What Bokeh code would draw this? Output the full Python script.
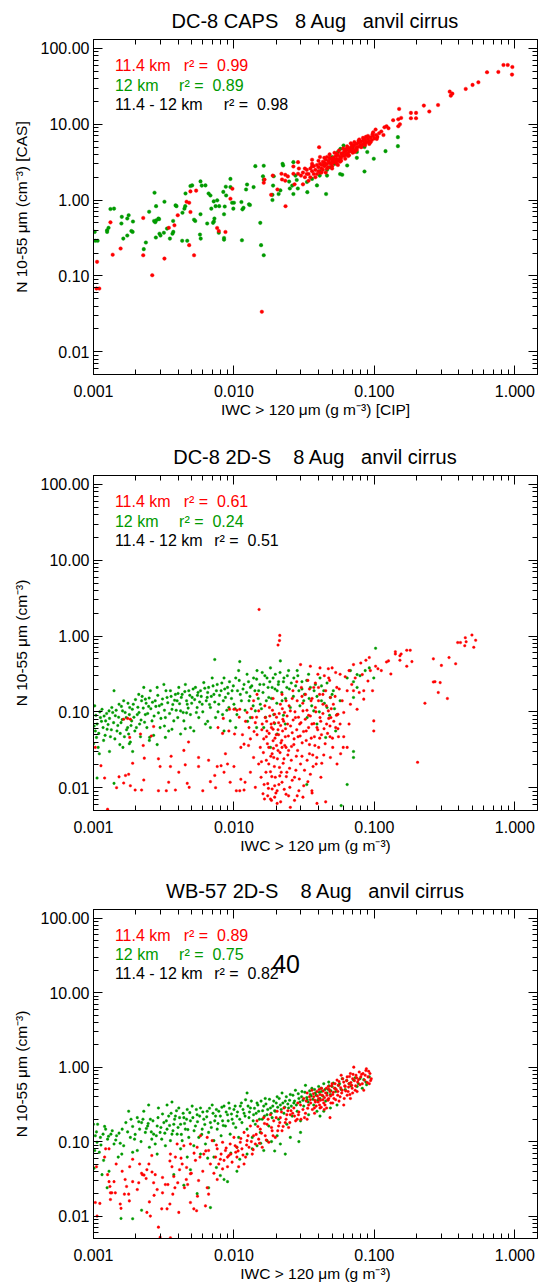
from bokeh.plotting import figure
from bokeh.layouts import column
from bokeh.models import LogAxis, FixedTicker, Label, Range1d, PrintfTickFormatter, CustomJSTickFormatter
from bokeh.embed import file_html
from bokeh.resources import INLINE

RED = "#ff0000"
GREEN = "#009a00"
FONT = "Liberation Sans"
NB = "\u00a0"

# ---------------- tick values / labels ----------------
x_tick_values = [0.001, 0.01, 0.1, 1.0]
y_tick_values = [0.01, 0.1, 1.0, 10.0, 100.0]
x_minor = [m * 10.0 ** e for e in range(-3, 1) for m in range(2, 10)]
y_minor = [m * 10.0 ** e for e in range(-3, 3) for m in range(2, 10)]

titles = ["DC-8 CAPS" + NB * 2 + " 8 Aug" + NB * 2 + " anvil cirrus",
          "DC-8 2D-S" + NB * 3 + " 8 Aug" + NB * 2 + " anvil cirrus",
          "WB-57 2D-S" + NB * 3 + " 8 Aug" + NB * 2 + " anvil cirrus"]
y_labels = ["N 10-55 \u03bcm (cm\u207b\u00b3) [CAS]",
            "N 10-55 \u03bcm (cm\u207b\u00b3)",
            "N 10-55 \u03bcm (cm\u207b\u00b3)"]
x_labels = ["IWC > 120 \u03bcm (g m\u207b\u00b3) [CIP]",
            "IWC > 120 \u03bcm (g m\u207b\u00b3)",
            "IWC > 120 \u03bcm (g m\u207b\u00b3)"]
alt_names = ["11.4 km", "12 km", "11.4 - 12 km"]
r2_p1 = [0.99, 0.89, 0.98]
r2_p2 = [0.61, 0.24, 0.51]
r2_p3 = [0.89, 0.75, 0.82]
stray_text = "40"

# ---------------- panel 1 : DC-8 CAPS ----------------
p1_red = [
    (0.955, 45.1), (0.96, 56.8), (0.83, 60.4), (0.89, 60.4), (0.763, 48.9), (0.634, 48.5),
    (0.55, 35.7), (0.50, 33.0), (0.447, 29.2), (0.344, 26.9), (0.35, 23.8), (0.359, 25.3),
    (0.284, 17.9), (0.246, 14.7), (0.225, 17.6), (0.198, 14.1), (0.182, 14.1), (0.182, 12.0),
    (0.198, 12.0), (0.150, 15.9), (0.155, 12.1), (0.148, 11.6), (0.152, 10.0), (0.148, 9.4),
    (0.136, 11.3), (0.126, 8.85), (0.118, 9.1), (0.122, 9.4), (0.102, 8.5),
    (0.031, 2.3), (0.032, 2.0), (0.033, 2.5), (0.034, 2.2), (0.035, 2.6), (0.035, 2.0),
    (0.036, 2.4), (0.037, 2.8), (0.037, 2.2), (0.038, 2.5), (0.039, 2.9), (0.040, 2.4),
    (0.040, 2.7), (0.041, 3.0), (0.042, 2.6), (0.042, 2.9), (0.043, 3.2), (0.044, 2.8),
    (0.044, 3.1), (0.045, 2.9), (0.045, 3.4), (0.046, 3.0), (0.047, 3.3), (0.047, 2.7),
    (0.048, 3.1), (0.049, 3.5), (0.049, 3.0), (0.050, 3.3), (0.051, 3.6), (0.051, 3.1),
    (0.052, 3.4), (0.053, 3.8), (0.053, 3.2), (0.054, 3.5), (0.055, 3.9), (0.056, 3.4),
    (0.057, 3.7), (0.058, 4.1), (0.058, 3.6), (0.059, 3.9), (0.060, 4.2), (0.061, 3.8),
    (0.062, 4.4), (0.063, 4.0), (0.064, 4.6), (0.065, 4.2), (0.066, 4.8), (0.067, 4.4),
    (0.068, 4.9), (0.069, 4.5), (0.070, 5.1), (0.071, 4.6), (0.072, 5.3), (0.074, 4.9),
    (0.075, 5.5), (0.076, 5.0), (0.078, 5.7), (0.079, 5.2), (0.080, 5.9), (0.082, 5.4),
    (0.083, 6.0), (0.085, 5.6), (0.086, 6.2), (0.088, 5.8), (0.090, 6.4), (0.092, 6.0),
    (0.094, 6.7), (0.096, 6.2), (0.098, 7.0), (0.100, 6.5), (0.103, 7.2), (0.105, 6.8),
    (0.108, 7.6), (0.036, 3.0), (0.039, 2.2), (0.043, 2.5), (0.046, 3.7), (0.050, 2.8),
    (0.054, 4.1), (0.057, 3.2), (0.061, 4.6), (0.065, 3.8), (0.069, 5.3), (0.073, 4.4),
    (0.077, 6.0), (0.081, 5.0), (0.087, 6.8), (0.092, 5.5), (0.033, 2.2), (0.041, 2.3),
    (0.048, 3.6), (0.055, 3.3), (0.063, 4.7), (0.072, 4.3), (0.084, 6.4), (0.097, 7.4),
    (0.032, 2.6), (0.034, 1.8), (0.036, 2.8), (0.038, 2.0), (0.040, 3.3), (0.042, 2.3),
    (0.044, 3.6), (0.046, 2.6), (0.048, 4.0), (0.050, 2.6), (0.052, 4.2), (0.054, 3.0),
    (0.056, 4.5), (0.058, 3.3), (0.060, 4.8), (0.062, 3.5), (0.064, 5.1), (0.066, 3.9),
    (0.068, 5.6), (0.070, 4.2), (0.072, 5.8), (0.075, 4.6), (0.078, 6.3), (0.080, 5.0),
    (0.083, 6.6), (0.086, 5.3), (0.090, 7.0), (0.094, 5.8), (0.098, 7.8), (0.104, 6.4),
    (0.112, 8.0), (0.116, 7.2), (0.041, 3.7), (0.036, 3.4), (0.045, 2.3), (0.055, 2.9),
    (0.0404, 4.98), (0.0286, 3.16), (0.0265, 2.77), (0.029, 2.6), (0.0265, 2.22),
    (0.0286, 2.22), (0.030, 2.1), (0.0218, 2.22), (0.0232, 2.15), (0.0242, 2.05),
    (0.022, 1.87), (0.0232, 1.80), (0.0189, 2.1), (0.0165, 1.86), (0.0163, 1.69),
    (0.027, 1.61), (0.031, 1.61), (0.0204, 1.38), (0.0184, 1.17), (0.0233, 0.83),
    (0.0158, 0.0336), (0.00975, 1.41), (0.00944, 1.04), (0.00759, 0.428), (0.0087, 0.379),
    (0.0078, 0.39), (0.0049, 1.30), (0.00538, 1.33), (0.0048, 0.92), (0.0046, 0.95),
    (0.0049, 0.695), (0.0048, 0.254), (0.0052, 0.187), (0.00398, 0.63), (0.00377, 0.464),
    (0.00344, 0.43), (0.0032, 0.169), (0.00262, 0.102), (0.00226, 0.58), (0.00226, 0.187),
    (0.00156, 0.229), (0.00137, 0.19), (0.00132, 0.508), (0.00106, 0.153), (0.00105, 0.068),
    (0.0011, 0.068),
]
p1_green = [
    (0.147, 6.75), (0.147, 5.14), (0.12, 4.41), (0.099, 3.5), (0.089, 4.3), (0.085, 2.38),
    (0.075, 3.6), (0.075, 4.3), (0.064, 2.86), (0.059, 2.15), (0.057, 2.2), (0.0453, 1.2),
    (0.046, 2.1), (0.046, 2.5), (0.0408, 2.4), (0.0408, 2.1), (0.039, 1.56), (0.036, 1.9),
    (0.0331, 1.73), (0.0333, 1.27), (0.0573, 4.73), (0.0675, 4.5), (0.0603, 5.25),
    (0.055, 4.3), (0.063, 4.0), (0.07, 4.9), (0.08, 5.2), (0.085, 5.0), (0.05, 3.7),
    (0.052, 3.0), (0.044, 3.0), (0.048, 2.7), (0.0274, 2.1), (0.028, 1.84), (0.0247, 1.75),
    (0.025, 1.42), (0.026, 1.55), (0.0285, 1.42), (0.0265, 1.2), (0.0224, 2.86),
    (0.0222, 3.0), (0.0265, 3.16), (0.0214, 1.34), (0.0208, 1.2), (0.0188, 1.0),
    (0.0192, 2.06), (0.019, 1.55), (0.0188, 1.17), (0.0161, 2.06), (0.0163, 1.85),
    (0.0142, 2.8), (0.0163, 2.83), (0.0138, 1.48), (0.0128, 0.877), (0.013, 0.86),
    (0.0124, 1.6), (0.0122, 1.38), (0.0115, 0.754), (0.0117, 0.79), (0.0113, 0.94),
    (0.0114, 0.295), (0.0154, 0.5), (0.0156, 0.254), (0.0163, 0.187), (0.01, 0.92),
    (0.0097, 0.92), (0.0099, 0.77), (0.00944, 1.9), (0.00944, 1.48), (0.00875, 1.5),
    (0.0084, 1.28), (0.0085, 0.65), (0.0086, 0.82), (0.0088, 1.15), (0.0085, 0.316),
    (0.0085, 0.30), (0.0078, 0.37), (0.00785, 0.83), (0.0076, 0.99), (0.00718, 0.96),
    (0.0074, 0.83), (0.00726, 0.57), (0.0071, 0.5), (0.0072, 0.52), (0.0069, 0.77),
    (0.0068, 1.15), (0.0066, 1.22), (0.00627, 1.56), (0.00645, 0.49), (0.00578, 1.76),
    (0.0059, 1.55), (0.00578, 0.65), (0.00573, 0.35), (0.0058, 0.31), (0.00504, 1.56),
    (0.0049, 1.53), (0.0052, 0.55), (0.0053, 0.53), (0.00452, 1.22), (0.00444, 0.77),
    (0.0045, 0.83), (0.0043, 0.68), (0.00465, 0.29), (0.00428, 0.29), (0.00384, 0.85),
    (0.0039, 0.83), (0.00369, 0.53), (0.00365, 0.36), (0.0037, 0.38), (0.0035, 0.31),
    (0.00334, 0.42), (0.0032, 0.95), (0.00317, 0.37), (0.003, 0.34), (0.00295, 0.36),
    (0.0029, 0.57), (0.00293, 0.56), (0.00279, 0.83), (0.00278, 0.32), (0.00272, 1.25),
    (0.0027, 0.53), (0.00275, 0.51), (0.0028, 0.54), (0.00249, 0.7), (0.00236, 0.275),
    (0.00228, 0.225), (0.00191, 0.52), (0.0019, 0.38), (0.00186, 0.39), (0.00178, 0.63),
    (0.00174, 0.57), (0.00174, 0.34), (0.00163, 0.31), (0.00159, 0.6), (0.00158, 0.49),
    (0.0014, 0.77), (0.00132, 0.76), (0.00128, 0.43), (0.00125, 0.38), (0.00125, 0.4),
    (0.00102, 0.38), (0.00103, 0.29), (0.00107, 0.29),
]

# ---------------- panel 2 : DC-8 2D-S ----------------
p2_green = [
    (0.00103, 0.056), (0.00105, 0.046), (0.00106, 0.069), (0.00108, 0.034), (0.00112, 0.084),
    (0.00115, 0.108), (0.00117, 0.062), (0.00118, 0.042), (0.00122, 0.076), (0.00125, 0.059),
    (0.00129, 0.103), (0.00132, 0.047), (0.0011, 0.028), (0.001, 0.038), (0.00106, 0.0134),
    (0.0014, 0.0114), (0.00098, 0.084), (0.00102, 0.12),
    (0.00135, 0.114), (0.0014, 0.19), (0.00143, 0.089), (0.00147, 0.056), (0.00152, 0.126),
    (0.00154, 0.037), (0.00157, 0.072), (0.00161, 0.103), (0.00164, 0.14), (0.00166, 0.047),
    (0.00171, 0.084), (0.00175, 0.062), (0.00181, 0.114), (0.00183, 0.04), (0.00187, 0.076),
    (0.0019, 0.03), (0.00192, 0.126), (0.00197, 0.056), (0.00205, 0.092), (0.0021, 0.17),
    (0.00213, 0.069), (0.00216, 0.047), (0.00162, 0.034), (0.00178, 0.051),
    (0.0022, 0.14), (0.00228, 0.21), (0.00234, 0.092), (0.0024, 0.062), (0.00247, 0.118),
    (0.00254, 0.19), (0.00261, 0.076), (0.00268, 0.049), (0.00275, 0.14), (0.00284, 0.21),
    (0.0029, 0.097), (0.00298, 0.062), (0.00306, 0.126), (0.00317, 0.23), (0.00325, 0.084),
    (0.00334, 0.155), (0.00343, 0.056), (0.00353, 0.19), (0.00362, 0.108), (0.00373, 0.076),
    (0.00284, 0.037), (0.00251, 0.046), (0.00325, 0.046), (0.00362, 0.059), (0.00234, 0.147),
    (0.00383, 0.17),
    (0.00394, 0.14), (0.00405, 0.21), (0.00417, 0.103), (0.00428, 0.17), (0.0044, 0.076),
    (0.00451, 0.23), (0.00465, 0.126), (0.00477, 0.19), (0.0049, 0.092), (0.00504, 0.155),
    (0.00518, 0.056), (0.00532, 0.21), (0.00547, 0.114), (0.00562, 0.084), (0.00578, 0.19),
    (0.00594, 0.126), (0.0061, 0.243), (0.00627, 0.069), (0.00645, 0.155), (0.00417, 0.051),
    (0.0049, 0.062), (0.00398, 0.084), (0.0046, 0.097), (0.0055, 0.165), (0.0073, 0.49),
    (0.0066, 0.21), (0.0068, 0.114), (0.007, 0.28), (0.0072, 0.17), (0.0074, 0.084),
    (0.0076, 0.23), (0.0078, 0.126), (0.0081, 0.19), (0.0083, 0.092), (0.0085, 0.28),
    (0.0087, 0.155), (0.009, 0.21), (0.0092, 0.114), (0.0094, 0.076), (0.0097, 0.19),
    (0.01, 0.126), (0.0103, 0.28), (0.0105, 0.092), (0.0108, 0.35), (0.011, 0.46),
    (0.0111, 0.17), (0.0068, 0.062), (0.0085, 0.056),
    (0.0118, 0.23), (0.0124, 0.313), (0.0128, 0.14), (0.0131, 0.21), (0.0138, 0.28),
    (0.0142, 0.103), (0.0146, 0.35), (0.015, 0.19), (0.0154, 0.126), (0.0159, 0.33),
    (0.0163, 0.23), (0.0172, 0.28), (0.0177, 0.155), (0.0182, 0.38), (0.0187, 0.21),
    (0.0192, 0.092), (0.0197, 0.313), (0.0203, 0.19), (0.0208, 0.25), (0.0214, 0.47),
    (0.022, 0.14), (0.0227, 0.28), (0.0232, 0.069), (0.0238, 0.21), (0.0245, 0.35),
    (0.0252, 0.114), (0.0131, 0.084), (0.0163, 0.062), (0.0203, 0.051), (0.0182, 0.034),
    (0.0267, 0.28), (0.0282, 0.35), (0.029, 0.19), (0.0305, 0.25), (0.0314, 0.14),
    (0.0332, 0.084), (0.034, 0.313), (0.035, 0.21), (0.037, 0.103), (0.038, 0.23),
    (0.039, 0.069), (0.041, 0.28), (0.042, 0.14), (0.0436, 0.19), (0.046, 0.114),
    (0.0486, 0.155), (0.051, 0.19), (0.0542, 0.092), (0.057, 0.14), (0.053, 0.056),
    (0.045, 0.046), (0.071, 0.03), (0.071, 0.025), (0.064, 0.011), (0.058, 0.0058),
    (0.033, 0.011),
    (0.064, 0.28), (0.0675, 0.35), (0.071, 0.25), (0.0753, 0.31), (0.079, 0.3),
    (0.086, 0.35), (0.092, 0.38), (0.0753, 0.21), (0.102, 0.69), (0.099, 0.28),
    (0.071, 0.155),
    (0.00101, 0.065), (0.00104, 0.09), (0.00109, 0.052), (0.00111, 0.1), (0.00114, 0.075),
    (0.00119, 0.088), (0.00121, 0.049), (0.00124, 0.095), (0.00127, 0.068), (0.0013, 0.082),
    (0.00134, 0.058), (0.00137, 0.098), (0.00139, 0.072), (0.00142, 0.044), (0.00145, 0.105),
    (0.00149, 0.066), (0.00151, 0.085), (0.00155, 0.052), (0.00158, 0.118), (0.0016, 0.079),
    (0.00168, 0.098), (0.00172, 0.058), (0.00176, 0.13), (0.0018, 0.092), (0.00185, 0.066),
    (0.00189, 0.108), (0.00194, 0.085), (0.00199, 0.145), (0.00202, 0.062), (0.00207, 0.115),
    (0.00211, 0.098), (0.00218, 0.078), (0.00222, 0.16), (0.00226, 0.112), (0.00231, 0.073),
    (0.00237, 0.13), (0.00243, 0.095), (0.00249, 0.152), (0.00256, 0.11), (0.00263, 0.134),
    (0.0027, 0.088), (0.00278, 0.118), (0.00287, 0.165), (0.00294, 0.12), (0.00302, 0.082),
    (0.0031, 0.148), (0.0032, 0.105), (0.00328, 0.19), (0.00338, 0.132), (0.00348, 0.095),
    (0.00357, 0.16), (0.00367, 0.125), (0.00378, 0.142), (0.00388, 0.105), (0.004, 0.175),
    (0.0041, 0.128), (0.00422, 0.155), (0.00435, 0.098), (0.00447, 0.185), (0.0046, 0.14),
    (0.00472, 0.112), (0.00485, 0.165), (0.005, 0.13), (0.00512, 0.2), (0.00525, 0.145),
    (0.0054, 0.098), (0.00555, 0.18), (0.0057, 0.135), (0.00585, 0.16), (0.006, 0.1),
    (0.0062, 0.205), (0.00635, 0.14), (0.0065, 0.18), (0.0067, 0.125), (0.0069, 0.16),
    (0.0071, 0.22), (0.0073, 0.135), (0.0075, 0.19), (0.0077, 0.1), (0.0079, 0.165),
    (0.0082, 0.24), (0.0084, 0.14), (0.0086, 0.2), (0.0089, 0.105), (0.0091, 0.175),
    (0.0093, 0.25), (0.0096, 0.15), (0.0099, 0.22), (0.0102, 0.11), (0.0106, 0.19),
    (0.0109, 0.26), (0.0113, 0.14), (0.0116, 0.2), (0.012, 0.105), (0.0123, 0.18),
    (0.0127, 0.25), (0.013, 0.16), (0.0134, 0.22), (0.0137, 0.12), (0.0141, 0.19),
    (0.0145, 0.27), (0.0149, 0.15), (0.0153, 0.23), (0.0157, 0.11), (0.0161, 0.18),
    (0.0166, 0.3), (0.017, 0.14), (0.0175, 0.21), (0.018, 0.25), (0.0185, 0.15),
    (0.019, 0.28), (0.0196, 0.2), (0.0202, 0.13), (0.0207, 0.23), (0.0213, 0.33),
    (0.0219, 0.18), (0.0225, 0.25), (0.0233, 0.15), (0.024, 0.3), (0.0248, 0.2),
    (0.0256, 0.24), (0.0265, 0.16), (0.0275, 0.22), (0.0285, 0.3), (0.0295, 0.12),
    (0.0305, 0.2), (0.0318, 0.17), (0.033, 0.26), (0.0343, 0.15), (0.0358, 0.12),
    (0.0372, 0.19), (0.039, 0.16), (0.0405, 0.1), (0.042, 0.22), (0.044, 0.13),
    (0.046, 0.24), (0.048, 0.09), (0.05, 0.17), (0.052, 0.11), (0.0103, 0.062),
    (0.0125, 0.075), (0.0145, 0.062), (0.0168, 0.085), (0.0195, 0.07), (0.0225, 0.09),
    (0.0065, 0.075), (0.0045, 0.06), (0.0032, 0.065), (0.0025, 0.042), (0.0018, 0.038),
    (0.0013, 0.03),
]
p2_red = [
    (0.00096, 0.062), (0.00103, 0.034), (0.00113, 0.0195), (0.0012, 0.0134), (0.00126, 0.0052),
    (0.00152, 0.0139), (0.00164, 0.0115), (0.00169, 0.0145), (0.00178, 0.015), (0.00146, 0.01),
    (0.00183, 0.0106), (0.00198, 0.0093), (0.0022, 0.0093), (0.00228, 0.0126), (0.0023, 0.0245),
    (0.0019, 0.021), (0.00164, 0.08), (0.00175, 0.082), (0.00183, 0.08), (0.00181, 0.046),
    (0.00216, 0.051), (0.00226, 0.036), (0.00258, 0.048), (0.00268, 0.064), (0.0029, 0.024),
    (0.00298, 0.019), (0.0029, 0.0091), (0.0033, 0.0091), (0.00343, 0.0118), (0.00353, 0.019),
    (0.00357, 0.026), (0.00383, 0.0093), (0.00405, 0.016), (0.0045, 0.02), (0.00465, 0.0114),
    (0.0048, 0.0101), (0.0044, 0.031), (0.00475, 0.04), (0.0056, 0.025), (0.0056, 0.019),
    (0.006, 0.0091), (0.0066, 0.023), (0.0068, 0.012), (0.0074, 0.01), (0.0073, 0.0145),
    (0.0076, 0.019), (0.0077, 0.062), (0.0081, 0.0195), (0.0083, 0.052), (0.0085, 0.016),
    (0.0087, 0.028), (0.009, 0.0205), (0.0092, 0.056), (0.0094, 0.0118), (0.01, 0.019),
    (0.0104, 0.0091), (0.011, 0.0091), (0.0112, 0.0129), (0.0118, 0.0093), (0.012, 0.0118),
    (0.0112, 0.034), (0.0118, 0.0375), (0.0093, 0.108), (0.01, 0.108), (0.0105, 0.105),
    (0.011, 0.108), (0.0101, 0.051), (0.0084, 0.082),
    (0.0124, 0.098), (0.0128, 0.062), (0.0131, 0.044), (0.0135, 0.084), (0.0138, 0.025),
    (0.0142, 0.072), (0.0146, 0.05), (0.015, 0.0205), (0.015, 0.103), (0.0154, 0.034),
    (0.0156, 0.0137), (0.0159, 0.069), (0.0161, 0.0083), (0.0163, 0.044), (0.0165, 0.0071),
    (0.0131, 0.016), (0.0142, 0.0101), (0.0146, 0.17), (0.0138, 0.14),
    (0.0167, 0.084), (0.017, 0.023), (0.0172, 0.056), (0.0174, 0.0113), (0.0177, 0.034),
    (0.0179, 0.114), (0.0182, 0.0162), (0.0184, 0.069), (0.0187, 0.0096), (0.019, 0.0416),
    (0.0192, 0.025), (0.0195, 0.093), (0.0197, 0.0137), (0.02, 0.05), (0.0203, 0.0091),
    (0.0206, 0.031), (0.0208, 0.072), (0.0211, 0.0185), (0.0214, 0.126), (0.0216, 0.039),
    (0.022, 0.0118), (0.0222, 0.056), (0.0227, 0.024), (0.0229, 0.098), (0.017, 0.047),
    (0.0177, 0.0205), (0.019, 0.059), (0.0195, 0.0106), (0.0201, 0.036), (0.0208, 0.05),
    (0.0212, 0.0143), (0.022, 0.034), (0.0223, 0.08), (0.0187, 0.028), (0.0182, 0.0071),
    (0.0203, 0.0062),
    (0.0232, 0.047), (0.0235, 0.14), (0.0238, 0.016), (0.0241, 0.069), (0.0245, 0.031),
    (0.025, 0.0101), (0.0252, 0.103), (0.0256, 0.023), (0.026, 0.053), (0.0263, 0.19),
    (0.0267, 0.037), (0.027, 0.0137), (0.0274, 0.084), (0.0278, 0.026), (0.0282, 0.14),
    (0.0286, 0.047), (0.029, 0.0091), (0.0294, 0.069), (0.0298, 0.0205), (0.0302, 0.21),
    (0.0306, 0.039), (0.031, 0.103), (0.0314, 0.0106), (0.0245, 0.0078), (0.0282, 0.0078),
    (0.0252, 0.0055), (0.0235, 0.034),
    (0.0323, 0.17), (0.0327, 0.056), (0.0332, 0.023), (0.0336, 0.26), (0.034, 0.09),
    (0.0345, 0.037), (0.035, 0.015), (0.0354, 0.14), (0.0359, 0.069), (0.0364, 0.027),
    (0.037, 0.21), (0.0374, 0.047), (0.038, 0.114), (0.0385, 0.0205), (0.039, 0.062),
    (0.0396, 0.313), (0.0401, 0.034), (0.0407, 0.17), (0.041, 0.084), (0.0416, 0.0137),
    (0.042, 0.05), (0.043, 0.126), (0.0436, 0.027), (0.0359, 0.0091), (0.039, 0.0062),
    (0.045, 0.0065), (0.041, 0.38), (0.035, 0.4), (0.0298, 0.42),
    (0.045, 0.19), (0.0457, 0.069), (0.047, 0.103), (0.0473, 0.28), (0.0483, 0.047),
    (0.0486, 0.155), (0.049, 0.084), (0.05, 0.38), (0.0505, 0.034), (0.051, 0.126),
    (0.053, 0.062), (0.054, 0.21), (0.0542, 0.0205), (0.055, 0.093), (0.0555, 0.047),
    (0.057, 0.313), (0.057, 0.069), (0.059, 0.14), (0.06, 0.034), (0.047, 0.37),
    (0.0486, 0.025),
    (0.062, 0.29), (0.064, 0.19), (0.066, 0.35), (0.0675, 0.126), (0.069, 0.23),
    (0.071, 0.42), (0.073, 0.28), (0.0753, 0.108), (0.078, 0.18), (0.08, 0.44),
    (0.082, 0.31), (0.084, 0.147), (0.087, 0.48), (0.09, 0.255), (0.092, 0.52),
    (0.0936, 0.35), (0.097, 0.19), (0.099, 0.076), (0.099, 0.056), (0.102, 0.4),
    (0.106, 0.37), (0.0605, 0.098), (0.066, 0.069), (0.0605, 0.047), (0.064, 0.034),
    (0.071, 0.19), (0.084, 0.19),
    (0.0151, 2.24), (0.0212, 1.02), (0.0206, 0.76), (0.0211, 0.87),
    (0.495, 1.03), (0.444, 0.95), (0.526, 0.88), (0.45, 0.84), (0.392, 0.82), (0.41, 0.82),
    (0.44, 0.745), (0.51, 0.71), (0.34, 0.52), (0.379, 0.43), (0.30, 0.41), (0.263, 0.50),
    (0.263, 0.248), (0.27, 0.25), (0.294, 0.243), (0.285, 0.18), (0.331, 0.15), (0.229, 0.13),
    (0.203, 0.0216), (0.141, 0.62), (0.141, 0.58), (0.155, 0.58), (0.152, 0.55), (0.17, 0.65),
    (0.18, 0.65), (0.122, 0.455), (0.126, 0.47), (0.131, 0.316), (0.112, 0.35), (0.185, 0.46),
    (0.17, 0.40), (0.152, 0.48),
    (0.0158, 0.058), (0.0162, 0.029), (0.0166, 0.12), (0.0169, 0.016), (0.0171, 0.075),
    (0.0173, 0.038), (0.0176, 0.0098), (0.0178, 0.052), (0.018, 0.088), (0.0183, 0.026),
    (0.0185, 0.062), (0.0186, 0.014), (0.0188, 0.105), (0.0191, 0.033), (0.0193, 0.072),
    (0.0194, 0.019), (0.0196, 0.045), (0.0199, 0.0085), (0.0201, 0.085), (0.0204, 0.024),
    (0.0206, 0.058), (0.0209, 0.011), (0.021, 0.095), (0.0213, 0.029), (0.0215, 0.066),
    (0.0217, 0.016), (0.0219, 0.042), (0.0221, 0.11), (0.0224, 0.021), (0.0226, 0.075),
    (0.0228, 0.0095), (0.023, 0.036), (0.0233, 0.06), (0.0236, 0.014), (0.0239, 0.088),
    (0.0242, 0.027), (0.0244, 0.048), (0.0247, 0.12), (0.0249, 0.018), (0.0253, 0.065),
    (0.0257, 0.035), (0.026, 0.0125), (0.0264, 0.078), (0.0268, 0.044), (0.0272, 0.1),
    (0.0276, 0.017), (0.028, 0.058), (0.0284, 0.031), (0.0288, 0.085), (0.0292, 0.013),
    (0.0296, 0.048), (0.03, 0.072), (0.0305, 0.026), (0.0309, 0.13), (0.0313, 0.055),
    (0.0318, 0.017), (0.0322, 0.08), (0.0327, 0.042), (0.0331, 0.105), (0.0336, 0.012),
    (0.034, 0.062), (0.0345, 0.028), (0.035, 0.088), (0.0355, 0.045), (0.036, 0.15),
    (0.0366, 0.019), (0.0371, 0.07), (0.0377, 0.036), (0.0383, 0.1), (0.0389, 0.025),
    (0.0395, 0.058), (0.04, 0.14), (0.0408, 0.045), (0.0415, 0.075), (0.0422, 0.021),
    (0.043, 0.095), (0.0438, 0.06), (0.0446, 0.038), (0.0455, 0.12), (0.0464, 0.052),
    (0.0473, 0.082), (0.0483, 0.065), (0.0493, 0.11), (0.0503, 0.045), (0.0514, 0.075),
    (0.0525, 0.16), (0.0537, 0.09), (0.055, 0.06), (0.0562, 0.2), (0.0575, 0.028),
    (0.0145, 0.085), (0.0139, 0.055), (0.0133, 0.11), (0.0127, 0.036), (0.0121, 0.075),
    (0.0115, 0.05), (0.0109, 0.085), (0.0157, 0.022), (0.0164, 0.011), (0.0174, 0.0078),
    (0.0185, 0.0068), (0.0195, 0.0075), (0.0215, 0.0065), (0.0235, 0.0082), (0.027, 0.0068),
    (0.031, 0.0075), (0.036, 0.0085), (0.0305, 0.16), (0.0345, 0.2), (0.038, 0.24),
    (0.043, 0.17), (0.048, 0.26), (0.053, 0.33), (0.044, 0.3), (0.04, 0.21),
    (0.028, 0.25), (0.026, 0.15), (0.022, 0.17), (0.019, 0.15),
]

# ---------------- panel 3 : WB-57 2D-S ----------------
p3_green = [
    (0.00098, 0.2), (0.001, 0.171), (0.00103, 0.12), (0.00107, 0.171), (0.00112, 0.114),
    (0.00117, 0.126), (0.00122, 0.147), (0.00126, 0.108), (0.00133, 0.126), (0.0014, 0.093),
    (0.00146, 0.12), (0.00155, 0.095), (0.0016, 0.147), (0.00164, 0.088), (0.00102, 0.076),
    (0.0011, 0.072), (0.00118, 0.056), (0.00101, 0.044), (0.00115, 0.036), (0.00125, 0.024),
    (0.00129, 0.04), (0.0015, 0.062), (0.00159, 0.068), (0.00157, 0.0093), (0.0019, 0.0092),
    (0.0022, 0.012), (0.00106, 0.098),
    (0.00178, 0.256), (0.00185, 0.2), (0.00196, 0.108), (0.00205, 0.21), (0.00213, 0.147),
    (0.0022, 0.18), (0.00228, 0.256), (0.00234, 0.133), (0.00243, 0.162), (0.0025, 0.084),
    (0.0026, 0.108), (0.00268, 0.126), (0.00275, 0.093), (0.00284, 0.162), (0.0029, 0.283),
    (0.00298, 0.133), (0.00306, 0.108), (0.00317, 0.18), (0.00325, 0.088), (0.00334, 0.147),
    (0.00343, 0.22), (0.00353, 0.103), (0.00362, 0.126), (0.00373, 0.171), (0.00205, 0.076),
    (0.0019, 0.072), (0.00284, 0.068), (0.00247, 0.31), (0.00334, 0.31), (0.00362, 0.34),
    (0.00254, 0.2), (0.00183, 0.114),
    (0.00383, 0.22), (0.00394, 0.126), (0.00405, 0.283), (0.00417, 0.171), (0.00428, 0.103),
    (0.0044, 0.21), (0.00451, 0.147), (0.00465, 0.27), (0.00477, 0.114), (0.0049, 0.19),
    (0.00504, 0.3), (0.00518, 0.088), (0.00532, 0.162), (0.00547, 0.23), (0.00562, 0.114),
    (0.00578, 0.283), (0.00594, 0.147), (0.0061, 0.2), (0.00627, 0.093), (0.00645, 0.256),
    (0.0066, 0.133), (0.0068, 0.18), (0.007, 0.31), (0.0072, 0.103), (0.0074, 0.22),
    (0.0076, 0.147), (0.0078, 0.256), (0.0081, 0.12), (0.0083, 0.19), (0.0085, 0.3),
    (0.0049, 0.042), (0.00373, 0.036), (0.00547, 0.02), (0.0066, 0.024), (0.0068, 0.013),
    (0.0085, 0.031), (0.009, 0.029), (0.0044, 0.026), (0.00465, 0.062), (0.00578, 0.068),
    (0.0072, 0.062), (0.00417, 0.08),
    (0.0087, 0.162), (0.009, 0.23), (0.0092, 0.33), (0.0094, 0.126), (0.0097, 0.2),
    (0.01, 0.27), (0.0103, 0.155), (0.0105, 0.22), (0.0108, 0.114), (0.0111, 0.3),
    (0.0114, 0.18), (0.0118, 0.24), (0.0121, 0.365), (0.0124, 0.147), (0.0128, 0.21),
    (0.0131, 0.283), (0.0135, 0.114), (0.0138, 0.23), (0.0142, 0.171), (0.0146, 0.33),
    (0.015, 0.256), (0.0154, 0.133), (0.0159, 0.2), (0.0163, 0.3), (0.0167, 0.38),
    (0.0172, 0.23), (0.0177, 0.162), (0.0182, 0.283), (0.0187, 0.21), (0.0192, 0.35),
    (0.0105, 0.084), (0.0124, 0.068), (0.0146, 0.088), (0.0172, 0.103), (0.0163, 0.076),
    (0.0124, 0.45),
    (0.0197, 0.256), (0.0203, 0.4), (0.0208, 0.2), (0.0214, 0.31), (0.022, 0.45),
    (0.0227, 0.24), (0.0232, 0.35), (0.0238, 0.171), (0.0245, 0.283), (0.0252, 0.43),
    (0.026, 0.22), (0.0267, 0.33), (0.0274, 0.49), (0.0282, 0.256), (0.029, 0.38),
    (0.0298, 0.19), (0.0305, 0.47), (0.0314, 0.3), (0.0323, 0.57), (0.0332, 0.365),
    (0.034, 0.23), (0.035, 0.43), (0.0359, 0.52), (0.037, 0.31), (0.038, 0.45),
    (0.039, 0.256), (0.0401, 0.55), (0.041, 0.38), (0.042, 0.47), (0.0436, 0.6),
    (0.0232, 0.068), (0.0252, 0.114), (0.029, 0.1), (0.0298, 0.133), (0.0203, 0.12),
    (0.0214, 0.093),
    (0.045, 0.35), (0.047, 0.5), (0.0473, 0.63), (0.0486, 0.43), (0.05, 0.55),
    (0.053, 0.47), (0.0555, 0.57), (0.059, 0.7), (0.062, 0.5), (0.066, 0.6),
    (0.071, 0.67), (0.0753, 0.55), (0.079, 0.7), (0.087, 0.63), (0.092, 0.74),
    (0.082, 0.52), (0.0486, 0.283), (0.0542, 0.31), (0.0436, 0.256), (0.041, 0.22),
    (0.00105, 0.135), (0.00113, 0.09), (0.0012, 0.16), (0.00128, 0.118), (0.00136, 0.14),
    (0.00144, 0.105), (0.00152, 0.13), (0.0017, 0.18), (0.00175, 0.135), (0.0019, 0.16),
    (0.00198, 0.125), (0.0021, 0.185), (0.00218, 0.1), (0.00225, 0.2), (0.00238, 0.15),
    (0.00245, 0.175), (0.00258, 0.135), (0.00265, 0.19), (0.0028, 0.12), (0.00288, 0.21),
    (0.00302, 0.155), (0.0031, 0.235), (0.00322, 0.13), (0.0033, 0.19), (0.00348, 0.165),
    (0.00357, 0.24), (0.00368, 0.14), (0.00378, 0.2), (0.0039, 0.26), (0.004, 0.155),
    (0.0041, 0.21), (0.00422, 0.125), (0.00435, 0.24), (0.00445, 0.175), (0.0046, 0.2),
    (0.0047, 0.145), (0.00485, 0.245), (0.0051, 0.21), (0.0052, 0.14), (0.0054, 0.27),
    (0.0055, 0.185), (0.0057, 0.22), (0.0059, 0.125), (0.006, 0.25), (0.0062, 0.17),
    (0.0064, 0.215), (0.0067, 0.28), (0.0069, 0.155), (0.0071, 0.24), (0.0073, 0.19),
    (0.0075, 0.27), (0.0077, 0.175), (0.008, 0.22), (0.0082, 0.29), (0.0084, 0.165),
    (0.0088, 0.25), (0.0091, 0.19), (0.0093, 0.28), (0.0096, 0.235), (0.0099, 0.175),
    (0.0102, 0.3), (0.0106, 0.25), (0.011, 0.2), (0.0113, 0.33), (0.0116, 0.27),
    (0.012, 0.22), (0.0126, 0.3), (0.0129, 0.25), (0.0133, 0.35), (0.0137, 0.19),
    (0.014, 0.28), (0.0144, 0.24), (0.0148, 0.31), (0.0152, 0.2), (0.0156, 0.35),
    (0.016, 0.26), (0.0165, 0.22), (0.0169, 0.32), (0.0174, 0.27), (0.0179, 0.37),
    (0.0184, 0.24), (0.0189, 0.3), (0.0195, 0.26), (0.02, 0.33), (0.0205, 0.29),
    (0.021, 0.38), (0.0217, 0.27), (0.0223, 0.33), (0.023, 0.29), (0.0236, 0.4),
    (0.0242, 0.32), (0.0249, 0.36), (0.0256, 0.3), (0.0263, 0.42), (0.027, 0.35),
    (0.0278, 0.31), (0.0287, 0.44), (0.0295, 0.34), (0.0303, 0.4), (0.031, 0.36),
    (0.032, 0.46), (0.033, 0.39), (0.0338, 0.34), (0.0346, 0.48), (0.0355, 0.41),
    (0.0365, 0.37), (0.0375, 0.5), (0.0385, 0.42), (0.0395, 0.36), (0.0405, 0.46),
    (0.0418, 0.52), (0.043, 0.41), (0.0445, 0.5), (0.046, 0.45), (0.0475, 0.56),
    (0.049, 0.48), (0.051, 0.61), (0.0525, 0.52), (0.0565, 0.6), (0.058, 0.5),
    (0.0635, 0.66), (0.068, 0.56), (0.073, 0.72), (0.077, 0.6), (0.084, 0.68),
    (0.088, 0.58), (0.0065, 0.06), (0.0075, 0.045), (0.0095, 0.07), (0.011, 0.058),
    (0.0135, 0.08), (0.0155, 0.095), (0.0185, 0.1), (0.0195, 0.075), (0.0105, 0.04),
    (0.008, 0.035),
]
p3_red = [
    (0.0252, 0.23), (0.0267, 0.283), (0.0282, 0.2), (0.0298, 0.31), (0.0314, 0.38),
    (0.0323, 0.24), (0.0332, 0.45), (0.034, 0.31), (0.035, 0.365), (0.0359, 0.49),
    (0.037, 0.4), (0.0374, 0.283), (0.038, 0.34), (0.039, 0.47), (0.0401, 0.38),
    (0.0407, 0.31), (0.041, 0.43), (0.042, 0.52), (0.043, 0.365), (0.0436, 0.33),
    (0.045, 0.45), (0.0457, 0.283), (0.047, 0.55), (0.0473, 0.38), (0.0483, 0.47),
    (0.049, 0.33), (0.05, 0.6), (0.0505, 0.43), (0.052, 0.52), (0.053, 0.365),
    (0.0542, 0.67), (0.055, 0.47), (0.0555, 0.57), (0.057, 0.4), (0.058, 0.78),
    (0.059, 0.49), (0.0605, 0.63), (0.061, 0.38), (0.062, 0.55), (0.064, 0.74),
    (0.065, 0.47), (0.066, 0.6), (0.067, 0.43), (0.0675, 0.82), (0.069, 0.57),
    (0.07, 0.7), (0.0713, 1.0), (0.073, 0.49), (0.074, 0.78), (0.076, 0.63),
    (0.078, 0.86), (0.08, 0.74), (0.082, 0.6), (0.083, 0.82), (0.085, 0.67),
    (0.087, 0.9), (0.0877, 0.95), (0.09, 0.74), (0.093, 0.82), (0.095, 0.7),
    (0.092, 0.6), (0.084, 0.49), (0.0753, 0.47), (0.0675, 0.38), (0.0605, 0.31),
    (0.0483, 0.21), (0.0332, 0.2), (0.03, 0.2), (0.041, 0.283), (0.0465, 0.365),
    (0.00578, 0.12), (0.0061, 0.068), (0.00645, 0.114), (0.0066, 0.076), (0.007, 0.103),
    (0.0074, 0.062), (0.0076, 0.08), (0.0078, 0.05), (0.0081, 0.068), (0.0083, 0.098),
    (0.0085, 0.056), (0.0087, 0.076), (0.009, 0.046), (0.0092, 0.065), (0.0094, 0.093),
    (0.0097, 0.053), (0.01, 0.114), (0.0103, 0.072), (0.0105, 0.062), (0.0108, 0.046),
    (0.0111, 0.098), (0.0114, 0.08), (0.0118, 0.133), (0.0121, 0.062), (0.0124, 0.103),
    (0.0128, 0.084), (0.0131, 0.162), (0.0135, 0.068), (0.0138, 0.12), (0.0142, 0.093),
    (0.0146, 0.19), (0.015, 0.108), (0.0154, 0.147), (0.0159, 0.084), (0.0163, 0.21),
    (0.0167, 0.12), (0.0172, 0.171), (0.0177, 0.098), (0.0182, 0.23), (0.0187, 0.14),
    (0.0192, 0.19), (0.0197, 0.114), (0.0203, 0.256), (0.0208, 0.162), (0.0214, 0.21),
    (0.022, 0.14), (0.0227, 0.283), (0.0232, 0.18), (0.0238, 0.23), (0.0245, 0.155),
    (0.009, 0.062), (0.0083, 0.043), (0.0105, 0.084), (0.0118, 0.05), (0.0068, 0.05),
    (0.0072, 0.0376), (0.0076, 0.031), (0.00645, 0.024), (0.0066, 0.0197), (0.00627, 0.0137),
    (0.0049, 0.037), (0.00532, 0.056),
    (0.00103, 0.0152), (0.00106, 0.01), (0.00111, 0.0148), (0.00105, 0.046), (0.00122, 0.08),
    (0.00129, 0.08), (0.00126, 0.036), (0.00129, 0.029), (0.00131, 0.025), (0.00132, 0.0205),
    (0.00135, 0.0205), (0.00143, 0.0205), (0.00145, 0.05), (0.00132, 0.0167), (0.00155, 0.0145),
    (0.00157, 0.0127), (0.00166, 0.0197), (0.00172, 0.025), (0.00178, 0.0197), (0.00168, 0.031),
    (0.00181, 0.046), (0.0019, 0.029), (0.00205, 0.0227), (0.00213, 0.05), (0.0022, 0.0376),
    (0.00223, 0.036), (0.00229, 0.0355), (0.00237, 0.032), (0.00248, 0.05), (0.0025, 0.0155),
    (0.0024, 0.0112), (0.00254, 0.01), (0.00261, 0.039), (0.00268, 0.028), (0.00275, 0.036),
    (0.00284, 0.0227), (0.0029, 0.0071), (0.00298, 0.0052), (0.00306, 0.0125), (0.0031, 0.0205),
    (0.00325, 0.0265), (0.00334, 0.0125), (0.00339, 0.0265), (0.00353, 0.0051), (0.00362, 0.046),
    (0.00367, 0.0197), (0.00373, 0.034), (0.00383, 0.062), (0.00398, 0.028), (0.00405, 0.0112),
    (0.0041, 0.042), (0.00428, 0.05), (0.00444, 0.024), (0.00458, 0.031), (0.00468, 0.0265),
    (0.0049, 0.0152), (0.00497, 0.0376), (0.00518, 0.0125), (0.00542, 0.0118), (0.00547, 0.084),
    (0.0055, 0.0185), (0.00573, 0.062), (0.00353, 0.068), (0.00394, 0.093), (0.0044, 0.088),
    (0.0049, 0.093),
    (0.0255, 0.26), (0.027, 0.22), (0.0285, 0.33), (0.029, 0.25), (0.031, 0.27),
    (0.0318, 0.21), (0.0327, 0.35), (0.0335, 0.28), (0.0345, 0.4), (0.0352, 0.33),
    (0.0362, 0.27), (0.0368, 0.44), (0.0377, 0.36), (0.0385, 0.3), (0.0393, 0.41),
    (0.0398, 0.34), (0.0404, 0.5), (0.0413, 0.36), (0.0418, 0.29), (0.0425, 0.42),
    (0.0432, 0.48), (0.0441, 0.39), (0.0445, 0.31), (0.0455, 0.52), (0.046, 0.42),
    (0.0468, 0.36), (0.0477, 0.5), (0.0488, 0.41), (0.0495, 0.56), (0.051, 0.46),
    (0.0515, 0.38), (0.0525, 0.6), (0.0535, 0.5), (0.0548, 0.42), (0.056, 0.64),
    (0.0575, 0.53), (0.0585, 0.45), (0.0595, 0.7), (0.0615, 0.56), (0.0625, 0.48),
    (0.0635, 0.66), (0.0655, 0.54), (0.0665, 0.75), (0.068, 0.62), (0.0695, 0.52),
    (0.0705, 0.8), (0.0722, 0.66), (0.0735, 0.56), (0.0748, 0.72), (0.077, 0.68),
    (0.079, 0.58), (0.081, 0.8), (0.086, 0.78), (0.089, 0.62), (0.091, 0.88),
    (0.094, 0.66), (0.0505, 0.33), (0.044, 0.27), (0.0375, 0.24), (0.056, 0.35),
    (0.064, 0.42), (0.07, 0.45),
    (0.0075, 0.09), (0.008, 0.058), (0.0088, 0.082), (0.0095, 0.068), (0.0102, 0.088),
    (0.0107, 0.075), (0.0112, 0.11), (0.0116, 0.066), (0.0123, 0.09), (0.0126, 0.12),
    (0.0133, 0.1), (0.0137, 0.078), (0.0144, 0.125), (0.0148, 0.16), (0.0152, 0.095),
    (0.0157, 0.13), (0.0165, 0.175), (0.017, 0.105), (0.0175, 0.2), (0.0185, 0.155),
    (0.019, 0.12), (0.02, 0.21), (0.0205, 0.14), (0.0212, 0.18), (0.0218, 0.25),
    (0.0224, 0.16), (0.0235, 0.2), (0.0242, 0.26), (0.025, 0.18), (0.0262, 0.24),
    (0.0275, 0.19), (0.0288, 0.23),
    (0.0012, 0.062), (0.0014, 0.029), (0.0016, 0.04), (0.0018, 0.016), (0.0021, 0.028),
    (0.0024, 0.042), (0.0027, 0.019), (0.0031, 0.033), (0.0035, 0.0145), (0.0038, 0.024),
    (0.0042, 0.06), (0.0046, 0.045), (0.0052, 0.07), (0.006, 0.04), (0.0063, 0.075),
    (0.0056, 0.03), (0.0035, 0.055), (0.0026, 0.065), (0.0019, 0.058),
]


def style_axis(ax, ticks, minor, fmt, show):
    ax.ticker = FixedTicker(ticks=ticks, minor_ticks=minor)
    ax.major_tick_in = 9
    ax.major_tick_out = 0
    ax.minor_tick_in = 5
    ax.minor_tick_out = 0
    ax.axis_line_color = "black"
    ax.major_tick_line_color = "black"
    ax.minor_tick_line_color = "black"
    if show:
        ax.formatter = PrintfTickFormatter(format=fmt)
        ax.major_label_text_font = FONT
        ax.major_label_text_font_size = "16px"
        ax.major_label_text_color = "black"
        ax.axis_label_text_font = FONT
        ax.axis_label_text_font_size = "15.5px"
        ax.axis_label_text_font_style = "normal"
        ax.axis_label_text_color = "black"
    else:
        ax.formatter = CustomJSTickFormatter(code="return ''")
        ax.major_label_text_font_size = "1px"
        ax.major_label_standoff = 0


def make_panel(title, ylabel, xlabel, red_pts, green_pts, dot, r2_vals, r2_x3,
               height, top, bottom, lab_so, ax_so, extra=None):
    p = figure(width=539, height=height, x_axis_type="log", y_axis_type="log",
               x_range=Range1d(0.001, 1.45), y_range=Range1d(0.005, 131),
               toolbar_location=None, output_backend="svg",
               min_border_left=93, min_border_right=2,
               min_border_top=top, min_border_bottom=bottom)
    p.grid.visible = False
    p.outline_line_color = "black"
    p.background_fill_color = "white"
    p.border_fill_color = "white"
    p.title.text = title
    p.title.align = "center"
    p.title.text_font = FONT
    p.title.text_font_size = "20px"
    p.title.text_font_style = "normal"
    p.title.text_color = "black"
    p.title.standoff = 15

    xa = p.xaxis[0]
    ya = p.yaxis[0]
    style_axis(xa, x_tick_values, x_minor, "%.3f", True)
    style_axis(ya, y_tick_values, y_minor, "%.2f", True)
    xa.axis_label = xlabel
    ya.axis_label = ylabel
    xa.major_label_standoff = lab_so
    xa.axis_label_standoff = ax_so
    ya.major_label_standoff = 4
    ya.axis_label_standoff = 8

    top_ax = LogAxis()
    style_axis(top_ax, x_tick_values, x_minor, None, False)
    p.add_layout(top_ax, "above")
    right_ax = LogAxis()
    style_axis(right_ax, y_tick_values, y_minor, None, False)
    p.add_layout(right_ax, "right")

    p.scatter([q[0] for q in green_pts], [q[1] for q in green_pts],
              size=dot, color=GREEN, line_width=0.4)
    p.scatter([q[0] for q in red_pts], [q[1] for q in red_pts],
              size=dot, color=RED, line_width=0.4)

    ys = [59.0, 32.2, 18.1]
    r2x = [0.00439, 0.00407, r2_x3]
    cols = [RED, GREEN, "black"]
    for i in range(3):
        p.add_layout(Label(x=0.00142, y=ys[i], text=alt_names[i], text_color=cols[i],
                           text_font=FONT, text_font_size="16px", text_baseline="middle"))
        p.add_layout(Label(x=r2x[i], y=ys[i], text="r\u00b2 =" + NB + " %.2f" % r2_vals[i],
                           text_color=cols[i], text_font=FONT, text_font_size="16px",
                           text_baseline="middle"))
    if extra:
        p.add_layout(Label(x=0.0235, y=24.6, text=extra, text_color="black", text_font=FONT,
                           text_font_size="25px", text_align="center", text_baseline="middle"))
    return p


p1 = make_panel(titles[0], y_labels[0], x_labels[0], p1_red, p1_green, 3.6, r2_p1, 0.00846,
                436, 38, 62, 10, 1)
p2 = make_panel(titles[1], y_labels[1], x_labels[1], p2_red, p2_green, 2.6, r2_p2, 0.00724,
                434, 38, 60, 10, 1)
p3 = make_panel(titles[2], y_labels[2], x_labels[2], p3_red, p3_green, 2.6, r2_p3, 0.00724,
                414, 37, 43, 10, 1, extra=stray_text)

layout = column(p1, p2, p3)
open("out.html", "w").write(file_html(layout, INLINE))
